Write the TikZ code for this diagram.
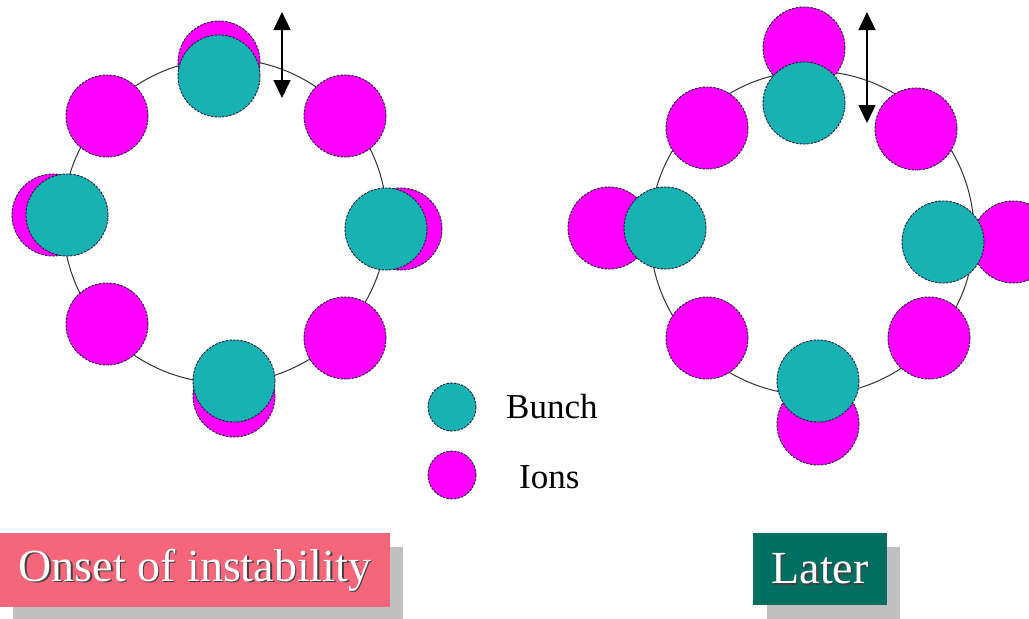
\documentclass[tikz,border=0pt]{standalone}
\usepackage{fontspec}
\setmainfont{Liberation Serif}
\usetikzlibrary{arrows.meta}
\definecolor{bunchc}{RGB}{24,178,178}
\definecolor{ionc}{RGB}{255,0,255}
\definecolor{pinkbox}{RGB}{245,102,122}
\definecolor{tealbox}{RGB}{0,110,96}
\definecolor{shadowc}{RGB}{192,192,192}
\definecolor{edgec}{RGB}{30,30,60}
\tikzset{
  ball/.style={circle, draw=edgec, line width=0.9pt, dash pattern=on 2.5pt off 1.2pt, minimum size=82pt, inner sep=0pt},
  bunch/.style={ball, fill=bunchc},
  ion/.style={ball, fill=ionc},
  smallball/.style={ball, minimum size=48pt},
  ring/.style={draw=black!80, line width=1pt},
  motion/.style={draw=black, line width=1.5pt, {Triangle[width=17pt,length=18pt]}-{Triangle[width=17pt,length=18pt]}},
  legendtxt/.style={font=\fontsize{35}{40}\selectfont, anchor=base west, inner sep=0pt},
  titletxt/.style={font=\fontsize{46}{52}\selectfont, inner sep=0pt},
}
\begin{document}
\begin{tikzpicture}[x=1pt,y=-1pt]
\useasboundingbox (0,0) rectangle (1029,619);
\fill[white] (0,0) rectangle (1029,619);

% ---------- left ring ----------
\coordinate (lc) at (225,221);
\draw[ring] (lc) circle (162);
\node[ion] (lti) at (219,62) {};
\node[ion] (lli) at (53,215) {};
\node[ion] (lri) at (401,229) {};
\node[ion] (lbi) at (234,396) {};
\node[ion] (ltl) at (107,116) {};
\node[ion] (ltr) at (345,116) {};
\node[ion] (lbl) at (107,324) {};
\node[ion] (lbr) at (345,338) {};
\node[bunch] (ltb) at (219,76) {};
\node[bunch] (llb) at (67,215) {};
\node[bunch] (lrb) at (386,229) {};
\node[bunch] (lbb) at (234,381) {};
\coordinate (la1) at (282,12);
\coordinate (la2) at (282,98);
\draw[motion] (la1) -- (la2);

% ---------- right ring ----------
\coordinate (rc) at (812,233);
\draw[ring] (rc) circle (162);
\node[ion] (rti) at (804,48) {};
\node[ion] (rli) at (609,228) {};
\node[ion] (rri) at (1013,242) {};
\node[ion] (rbi) at (818,424) {};
\node[ion] (rtl) at (707,128) {};
\node[ion] (rtr) at (916,129) {};
\node[ion] (rbl) at (707,338) {};
\node[ion] (rbr) at (929,338) {};
\node[bunch] (rtb) at (804,103) {};
\node[bunch] (rlb) at (665,228) {};
\node[bunch] (rrb) at (943,242) {};
\node[bunch] (rbb) at (818,381) {};
\coordinate (ra1) at (867,12);
\coordinate (ra2) at (867,123);
\draw[motion] (ra1) -- (ra2);

% ---------- legend ----------
\node[smallball, fill=bunchc] (legb) at (452,407) {};
\node[smallball, fill=ionc] (legi) at (452,475) {};
\node[legendtxt] (legbt) at (506,418) {Bunch};
\node[legendtxt] (legit) at (519,488) {Ions};

% ---------- titles ----------
\fill[shadowc] (13,547) rectangle (403,620);
\node[fill=pinkbox, minimum width=390pt, minimum height=74pt, inner sep=0pt] (tleft) at (195,570) {};
\node[titletxt, text=black!75] at (196.5,571.5) {Onset of instability};
\node[titletxt, text=white] (tlefttxt) at (tleft) {Onset of instability};

\fill[shadowc] (767,547) rectangle (900,620);
\node[fill=tealbox, minimum width=134pt, minimum height=72pt, inner sep=0pt] (tright) at (820,569) {};
\node[titletxt, text=black!75] at (821.5,570.5) {Later};
\node[titletxt, text=white] (trighttxt) at (tright) {Later};
\end{tikzpicture}
\end{document}
